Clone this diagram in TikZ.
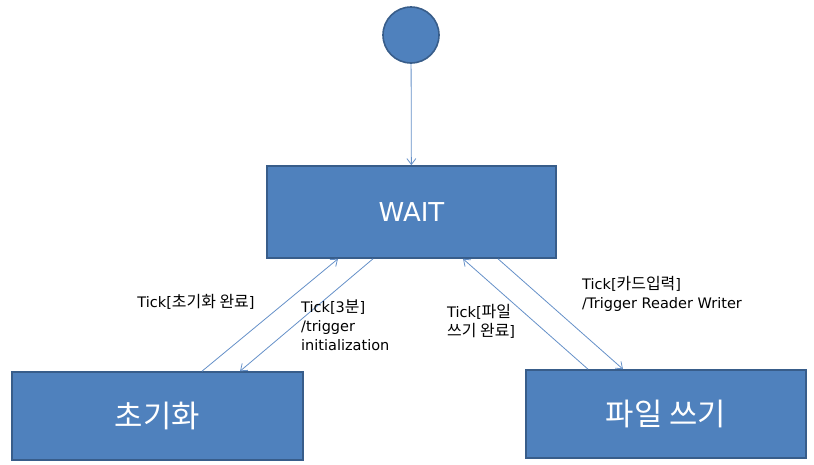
\documentclass[tikz,border=0pt]{standalone}
\usepackage{fontspec}
\setmainfont{DejaVu Sans}
\newfontfamily\kr[Scale=1.1]{Noto Sans CJK KR}
\usetikzlibrary{arrows.meta}
\definecolor{boxblue}{HTML}{4F81BD}
\definecolor{boxedge}{HTML}{385D8A}
\definecolor{linkblue}{HTML}{6590C8}
\begin{document}
\begin{tikzpicture}[x=1pt,y=-1pt,>={Straight Barb[length=6pt,width=9pt]},
  state/.style={draw=boxedge,line width=1.6pt,fill=boxblue,text=white,
    font=\fontsize{26}{30}\selectfont,inner sep=0pt},
  kstate/.style={state,font=\fontsize{28}{34}\selectfont\kr},
  link/.style={->,color=linkblue,line width=0.8pt},
  lbl/.style={font=\fontsize{14.5}{19}\selectfont,inner sep=0pt,align=left}]
  \useasboundingbox (0,0) rectangle (814,464);

  \node[state,circle,minimum size=56pt] (start) at (411,35) {};
  \node[state,minimum width=289pt,minimum height=92pt] (wait) at (411.5,212) {WAIT};
  \node[kstate,minimum width=291pt,minimum height=88pt] (init) at (157.5,416) {초기화};
  \node[kstate,minimum width=280pt,minimum height=88pt] (write) at (666,414) {파일 쓰기};

  \draw[link] (start) -- (wait);
  \draw[link] ([xshift=44.5pt]init.north) -- ([xshift=-73.5pt]wait.south);
  \draw[link] ([xshift=-38.5pt]wait.south) -- ([xshift=82.5pt]init.north);
  \draw[link] ([xshift=-78pt]write.north) -- ([xshift=51.5pt]wait.south);
  \draw[link] ([xshift=86.5pt]wait.south) -- ([xshift=-43pt]write.north);

  \node[lbl] (lbl1) at (196,302) {Tick[{\kr 초기화 완료}]};
  \node[lbl,anchor=west] (lbl2) at (301,325) {Tick[3{\kr 분}]\\/trigger\\initialization};
  \node[lbl,anchor=west] (lbl3) at (447,321) {Tick[{\kr 파일}\\{\kr 쓰기 완료}]};
  \node[lbl,anchor=west] (lbl4) at (582,294) {Tick[{\kr 카드입력}]\\/Trigger Reader Writer};
\end{tikzpicture}
\end{document}
